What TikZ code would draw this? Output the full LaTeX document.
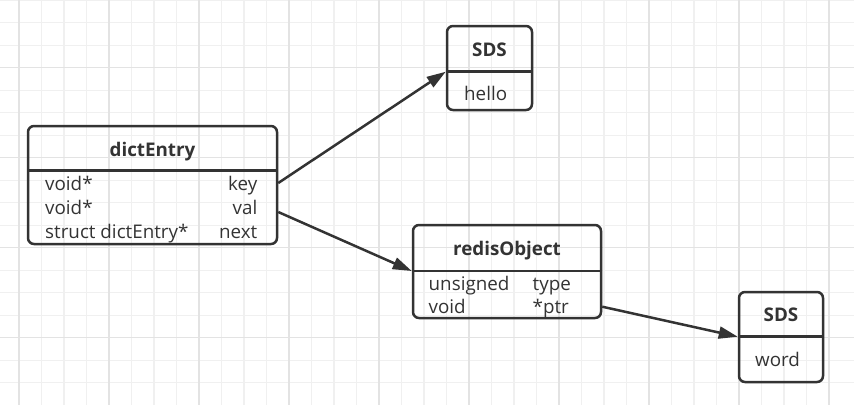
\documentclass[tikz,border=0pt]{standalone}
\usepackage{fontspec}
\setmainfont{Open Sans}
\usetikzlibrary{arrows.meta}

\definecolor{ink}{HTML}{333333}
\definecolor{gridminor}{HTML}{F0F0F0}
\definecolor{gridmajor}{HTML}{E3E3E3}

\begin{document}
\begin{tikzpicture}[
    x=1pt, y=-1pt,
    every node/.style={font=\fontsize{18.8}{22}\selectfont, text=ink, inner sep=0pt},
    structbox/.style={draw=ink, line width=2.5pt, rounded corners=6pt},
    title/.style={font=\fontsize{18.8}{22}\selectfont\bfseries, anchor=base},
    field/.style={anchor=base west},
    fieldr/.style={anchor=base east},
    link/.style={->, draw=ink, line width=2.5pt},
    >={Triangle[length=19pt, width=12pt]}
]

\useasboundingbox (0,0) rectangle (854,405);

% Grid
\foreach \x in {19,41.5,...,840}
    \draw[gridminor, line width=1.2pt] (\x,0) -- (\x,405);
\foreach \y in {0.2,22.7,...,400}
    \draw[gridminor, line width=1.2pt] (0,\y) -- (854,\y);
\foreach \x in {19,109,...,840}
    \draw[gridmajor, line width=1.3pt] (\x,0) -- (\x,405);
\foreach \y in {67.7,157.7,...,400}
    \draw[gridmajor, line width=1.3pt] (0,\y) -- (854,\y);

% Nodes
\node[structbox, minimum width=249pt, minimum height=118pt] (dict) at (152.5,185) {};
\node[structbox, minimum width=85pt, minimum height=84pt] (hello) at (489.5,68) {};
\node[structbox, minimum width=188pt, minimum height=93pt] (robj) at (507,271.5) {};
\node[structbox, minimum width=84pt, minimum height=90pt] (word) at (781,337) {};

\coordinate (dicthdr) at (0,170.7);
\coordinate (hellohdr) at (0,71.7);
\coordinate (robjhdr) at (0,271);
\coordinate (wordhdr) at (0,336.7);

\draw[ink, line width=2.5pt] (dict.west |- dicthdr) -- (dict.east |- dicthdr);
\draw[ink, line width=2.5pt] (hello.west |- hellohdr) -- (hello.east |- hellohdr);
\draw[ink, line width=2.5pt] (robj.west |- robjhdr) -- (robj.east |- robjhdr);
\draw[ink, line width=2.5pt] (word.west |- wordhdr) -- (word.east |- wordhdr);

% Texts
\node[title] (dictname) at (152.5,156) {dictEntry};
\node[field] (dtype1) at (45,190.7) {void*};
\node[field] (dtype2) at (45,214.7) {void*};
\node[field] (dtype3) at (45,238.5) {struct dictEntry*};
\node[fieldr] (key) at (257.5,190.7) {key};
\node[fieldr] (val) at (257.5,214.7) {val};
\node[fieldr] (next) at (257.5,238.5) {next};

\node[title] (helloname) at (489.5,56) {SDS};
\node[field] (hellotext) at (464,100) {hello};

\node[title] (robjname) at (507,255) {redisObject};
\node[field] (rtype1) at (428.5,290) {unsigned};
\node[field] (rtype2) at (428.5,313.3) {void};
\node[field] (type) at (532.5,290) {type};
\node[field] (ptr) at (532.5,313.3) {*ptr};

\node[title] (wordname) at (781,321.7) {SDS};
\node[field] (wordtext) at (755,366.7) {word};

% Arrows
\coordinate (keyout) at (0,183);
\coordinate (valout) at (0,212);
\coordinate (ptrout) at (0,306.7);

\draw[link] (dict.east |- keyout) -- (hello.west |- hellohdr);
\draw[link] (dict.east |- valout) -- (robj.west |- robjhdr);
\draw[link] (robj.east |- ptrout) -- (word.west |- wordhdr);

\end{tikzpicture}
\end{document}
